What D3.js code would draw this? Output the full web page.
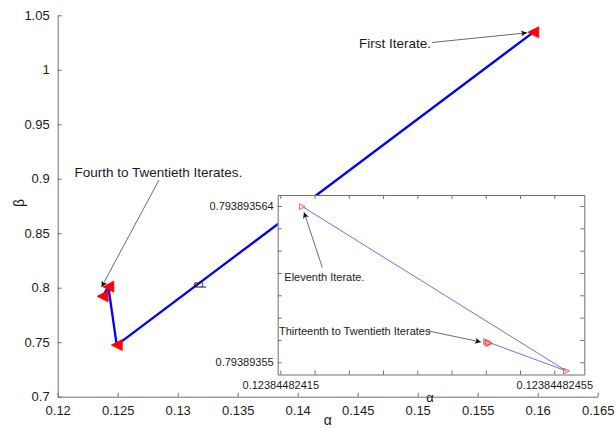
<!DOCTYPE html>
<html>
<head>
<meta charset="utf-8">
<script src="https://cdn.jsdelivr.net/npm/d3@7"></script>
<style>
  html, body { margin: 0; padding: 0; background: #fff; }
  svg { display: block; font-family: "Liberation Sans", Arial, Helvetica, sans-serif; }
</style>
</head>
<body>
<svg id="chart" width="615" height="428"></svg>
<script>
// Iterates of (alpha, beta) on the full scale
const alphaIterates = [0.15963, 0.12492, 0.12422, 0.12374];
const betaIterates  = [1.0344, 0.7474, 0.8009, 0.7921];

// Eleventh onward, seen at high magnification
const alphaZoom = [0.1238448241824, 0.1238448245678, 0.1238448244511, 0.1238448244554,
                   0.1238448244532, 0.1238448244539, 0.1238448244545, 0.1238448244540];
const betaZoom  = [0.79389356394, 0.79389354922, 0.79389355186, 0.79389355168,
                   0.79389355177, 0.79389355175, 0.79389355172, 0.79389355174];

// Main axis ticks
const xTicks = [0.12, 0.125, 0.13, 0.135, 0.14, 0.145, 0.15, 0.155, 0.16, 0.165];
const xTickLabels = ["0.12", "0.125", "0.13", "0.135", "0.14", "0.145", "0.15", "0.155", "0.16", "0.165"];
const yTicks = [0.7, 0.75, 0.8, 0.85, 0.9, 0.95, 1, 1.05];
const yTickLabels = ["0.7", "0.75", "0.8", "0.85", "0.9", "0.95", "1", "1.05"];

// Magnified axis ticks (only the end ticks carry labels)
const xZoomTicks = [0.12384482415, 0.1238448242, 0.12384482425, 0.1238448243, 0.12384482435,
                    0.1238448244, 0.12384482445, 0.1238448245, 0.12384482455];
const xZoomTickLabels = ["0.12384482415", "", "", "", "", "", "", "", "0.12384482455"];
const yZoomTicks = [0.79389355, 0.793893552, 0.793893554, 0.793893556, 0.793893558,
                    0.79389356, 0.793893562, 0.793893564];
const yZoomTickLabels = ["0.79389355", "", "", "", "", "", "", "0.793893564"];

const annotationTexts = ["First Iterate.", "Fourth to Twentieth Iterates.",
                         "Eleventh Iterate.", "Thirteenth to Twentieth Iterates"];

const svg = d3.select("#chart");
const axisColor = "#6e6e6e";
const textColor = "#1a1a1a";

// ---------- main axes ----------
const main = { left: 57.7, right: 597.7, top: 15.3, bottom: 396.7 };
const x = d3.scaleLinear().domain([0.12, 0.165]).range([main.left, main.right]);
const y = d3.scaleLinear().domain([0.7, 1.05]).range([main.bottom, main.top]);

svg.append("rect").attr("width", 615).attr("height", 428).attr("fill", "#fff");

const xAxis = d3.axisBottom(x).tickValues(xTicks)
  .tickFormat((d, i) => xTickLabels[i]).tickSizeInner(-4).tickSizeOuter(0).tickPadding(9);
const yAxis = d3.axisLeft(y).tickValues(yTicks)
  .tickFormat((d, i) => yTickLabels[i]).tickSizeInner(-4).tickSizeOuter(0).tickPadding(8);

function styleAxis(g, size) {
  g.select(".domain").attr("stroke", axisColor).attr("stroke-width", 1);
  g.selectAll(".tick line").attr("stroke", axisColor);
  g.selectAll(".tick text").attr("fill", textColor).attr("font-size", size)
    .attr("font-family", "Liberation Sans, Arial, sans-serif");
}

svg.append("g").attr("transform", `translate(0,${main.bottom})`).call(xAxis)
  .call(g => styleAxis(g, 13))
  .call(g => g.selectAll(".tick text").attr("dy", "0.71em"));
svg.append("g").attr("transform", `translate(${main.left},0)`).call(yAxis)
  .call(g => styleAxis(g, 13));

svg.append("text").attr("x", (main.left + main.right) / 2).attr("y", 425)
  .attr("text-anchor", "middle").attr("font-size", 14).attr("fill", textColor).text("α");
svg.append("text").attr("transform", `translate(24,${(main.top + main.bottom) / 2 - 3}) rotate(-90)`)
  .attr("text-anchor", "middle").attr("font-size", 14).attr("fill", textColor).text("β");

// main trajectory
const mainPts = alphaIterates.map((a, i) => [x(a), y(betaIterates[i])]);
svg.append("path").attr("d", d3.line()(mainPts))
  .attr("fill", "none").attr("stroke", "#0000ff").attr("stroke-width", 2.3)
  .attr("stroke-linejoin", "round");

// left-pointing triangle markers
const triLeft = s => `M${-s},0L${s},${-s}L${s},${s}Z`;
svg.selectAll(".mk").data(mainPts).join("path")
  .attr("transform", d => `translate(${d[0]},${d[1]})`)
  .attr("d", triLeft(5.5)).attr("fill", "#ff0000").attr("stroke", "#ff0000").attr("stroke-width", 0.8);

// arrowhead definitions
const defs = svg.append("defs");
defs.append("marker").attr("id", "arrow").attr("viewBox", "0 0 10 10")
  .attr("refX", 10).attr("refY", 5).attr("markerWidth", 7).attr("markerHeight", 6)
  .attr("markerUnits", "userSpaceOnUse").attr("orient", "auto")
  .append("path").attr("d", "M0,0L10,5L0,10L2.5,5Z").attr("fill", "#111");

function annotate(txt, tx, ty, size, from, to) {
  svg.append("text").attr("x", tx).attr("y", ty).attr("dy", "0.35em")
    .attr("font-size", size).attr("fill", textColor).text(txt);
  svg.append("line").attr("x1", from[0]).attr("y1", from[1]).attr("x2", to[0]).attr("y2", to[1])
    .attr("stroke", "#444").attr("stroke-width", 0.8).attr("marker-end", "url(#arrow)");
}

annotate(annotationTexts[0], 359, 43, 13.5, [432, 42.5], [527, 32.8]);
annotate(annotationTexts[1], 74.5, 172.5, 13.5, [159, 180], [101.5, 287]);

// ---------- magnified inset ----------
const inset = { left: 277.7, right: 584.3, top: 195, bottom: 374.5 };
const xz = d3.scaleLinear().domain([0.1238448241462, 0.1238448245938]).range([inset.left, inset.right]);
const yz = d3.scaleLinear().domain([0.793893548907, 0.793893564985]).range([inset.bottom, inset.top]);

svg.append("rect").attr("x", inset.left).attr("y", inset.top)
  .attr("width", inset.right - inset.left).attr("height", inset.bottom - inset.top)
  .attr("fill", "#fff");

const xzAxis = d3.axisBottom(xz).tickValues(xZoomTicks)
  .tickFormat((d, i) => xZoomTickLabels[i]).tickSizeInner(-4).tickSizeOuter(0).tickPadding(7);
const yzAxis = d3.axisLeft(yz).tickValues(yZoomTicks)
  .tickFormat((d, i) => yZoomTickLabels[i]).tickSizeInner(-4).tickSizeOuter(0).tickPadding(4);

svg.append("g").attr("transform", `translate(0,${inset.bottom})`).call(xzAxis)
  .call(g => styleAxis(g, 11));
svg.append("g").attr("transform", `translate(${inset.left},0)`).call(yzAxis)
  .call(g => styleAxis(g, 11));
// mirrored ticks on top and right
svg.append("g").attr("transform", `translate(0,${inset.top})`)
  .call(d3.axisTop(xz).tickValues(xZoomTicks).tickFormat("").tickSizeInner(-4).tickSizeOuter(0))
  .call(g => styleAxis(g, 11));
svg.append("g").attr("transform", `translate(${inset.right},0)`)
  .call(d3.axisRight(yz).tickValues(yZoomTicks).tickFormat("").tickSizeInner(-4).tickSizeOuter(0))
  .call(g => styleAxis(g, 11));

svg.append("text").attr("x", 430).attr("y", 402).attr("text-anchor", "middle")
  .attr("font-size", 13).attr("fill", textColor).text("α");
svg.append("text").attr("transform", `translate(203,${(inset.top + inset.bottom) / 2}) rotate(-90)`)
  .attr("text-anchor", "middle").attr("font-size", 13).attr("fill", textColor).text("β");

const zoomPts = alphaZoom.map((a, i) => [xz(a), yz(betaZoom[i])]);
svg.append("path").attr("d", d3.line()(zoomPts))
  .attr("fill", "none").attr("stroke", "#4a4ae6").attr("stroke-width", 0.8);

const triRight = s => `M${s},0L${-s},${-s}L${-s},${s}Z`;
svg.selectAll(".mkz").data(zoomPts).join("path")
  .attr("transform", d => `translate(${d[0]},${d[1]})`)
  .attr("d", triRight(3)).attr("fill", "rgba(255,170,170,0.45)")
  .attr("stroke", "#f05050").attr("stroke-width", 0.8);

annotate(annotationTexts[2], 284.3, 276.7, 11, [322.3, 267.5], [304, 212.3]);
annotate(annotationTexts[3], 279, 330.7, 11, [428.5, 331], [481, 342]);
</script>
</body>
</html>
